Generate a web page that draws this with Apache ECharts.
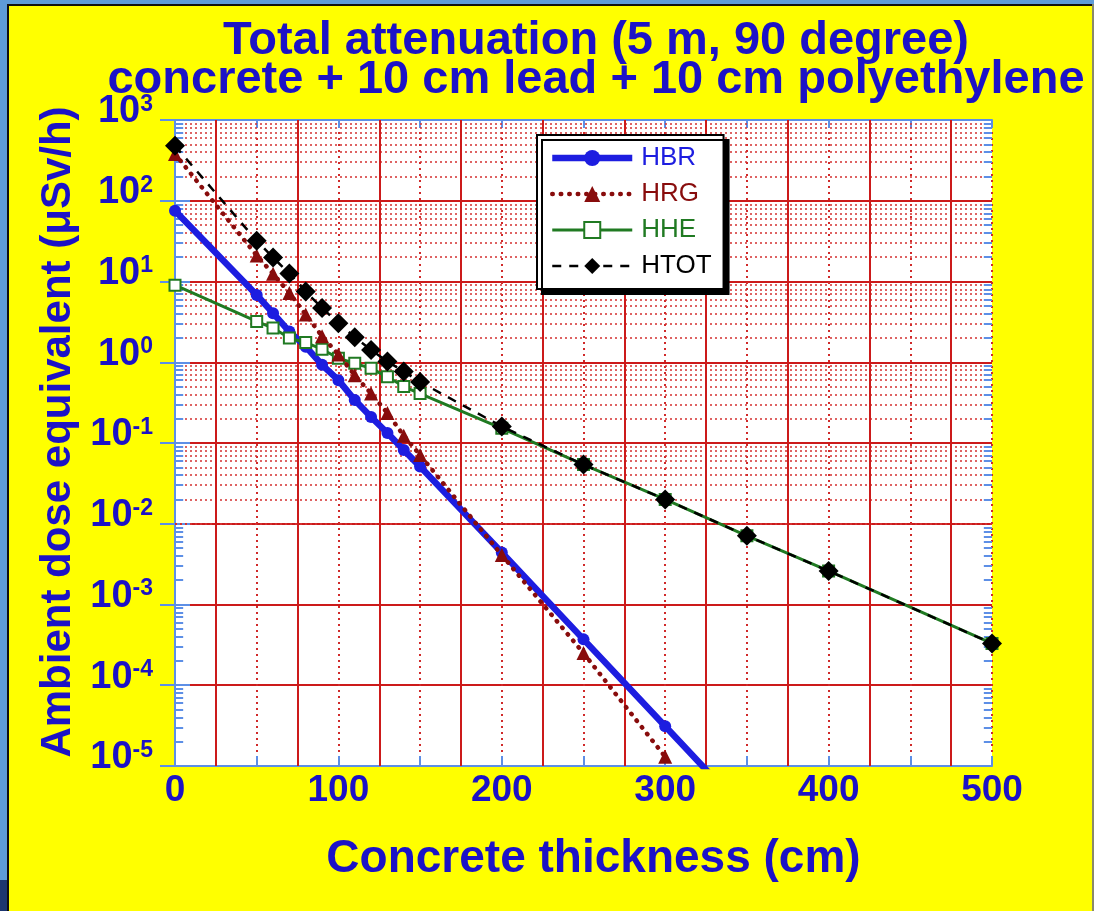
<!DOCTYPE html>
<html>
<head>
<meta charset="utf-8">
<script src="https://cdn.jsdelivr.net/npm/echarts@6/dist/echarts.min.js"></script>
<style>
html,body{margin:0;padding:0;background:#ffff00;}
#chart{width:1094px;height:911px;}
</style>
</head>
<body>
<div id="chart"></div>
<script>
// ---- data ----
const xHBR = [0,50,60,70,80,90,100,110,120,130,140,150,200,250,300,350];
const yHBR = [75,6.8,4.05,2.4,1.56,0.93,0.60,0.34,0.21,0.133,0.082,0.051,0.0044,3.7e-4,3.1e-5,2.6e-6];
const xHRG = [0,50,60,70,80,90,100,110,120,130,140,150,200,250,300];
const yHRG = [380,21,12.5,7.2,3.9,2.1,1.25,0.69,0.41,0.235,0.123,0.071,0.0041,2.5e-4,1.3e-5];
const xHHE = [0,50,60,70,80,90,100,110,120,130,140,150,200,250,300,350,400,500];
const yHHE = [9,3.2,2.65,2.0,1.75,1.45,1.12,0.97,0.84,0.66,0.50,0.41,0.152,0.054,0.020,0.0071,0.0026,3.3e-4];
const xHTOT = [0,50,60,70,80,90,100,110,120,130,140,150,200,250,300,350,400,500];
const yHTOT = [480,32,19.8,12.6,7.5,4.7,3.05,2.04,1.42,1.02,0.77,0.57,0.16,0.054,0.020,0.0071,0.0026,3.3e-4];
const seriesNames = ['HBR','HRG','HHE','HTOT'];
const titleLines = ['Total attenuation (5 m, 90 degree)','concrete + 10 cm lead + 10 cm polyethylene'];
const xName = 'Concrete thickness (cm)';
const yName = 'Ambient dose equivalent (\u03bcSv/h)';
const decades = [-5,-4,-3,-2,-1,0,1,2];          // decades with minor grid
const solidXLines = [25,75,125,175,225,275,325,375,425,475];

// ---- helpers ----
const BLUE_TXT = '#1c12c6';
const FONT = 'Liberation Sans';
const pairs = (xs, ys) => xs.map((x, i) => [x, ys[i]]);
const minorVals = [];
decades.forEach(d => { for (let m = 2; m <= 9; m++) minorVals.push(m * Math.pow(10, d)); });

const chart = echarts.init(document.getElementById('chart'), null, {renderer: 'canvas'});
const option = {
  backgroundColor: '#ffff00',
  animation: false,
  title: {
    text: titleLines.join('\n'),
    left: 591, top: 17, textAlign: 'center',
    textStyle: {color: BLUE_TXT, fontFamily: FONT, fontWeight: 'bold', fontSize: 47, lineHeight: 39}
  },
  graphic: [
    {type: 'rect', shape: {x: 0, y: 0, width: 8, height: 911}, style: {fill: '#5e9bd8'}, z: 100},
    {type: 'rect', shape: {x: 0, y: 0, width: 1094, height: 4}, style: {fill: '#5e9bd8'}, z: 100},
    {type: 'rect', shape: {x: 7, y: 4, width: 2, height: 907}, style: {fill: '#111'}, z: 101},
    {type: 'rect', shape: {x: 7, y: 4, width: 1087, height: 2}, style: {fill: '#111'}, z: 101},
    {type: 'rect', shape: {x: 1092, y: 4, width: 2, height: 907}, style: {fill: '#8a8a6a'}, z: 101},
    {type: 'rect', shape: {x: 0, y: 880, width: 7, height: 31}, style: {fill: '#1d3670'}, z: 102}
  ],
  grid: {left: 175, top: 120, right: 102, bottom: 145, show: true, backgroundColor: '#ffffff', borderWidth: 0},
  legend: {
    orient: 'vertical',
    left: 537, top: 135,
    padding: [10, 12, 10, 12],
    itemGap: 10,
    itemWidth: 80, itemHeight: 20,
    backgroundColor: '#ffffff',
    borderColor: '#000000', borderWidth: 2, borderRadius: 0,
    shadowColor: '#000000', shadowOffsetX: 5, shadowOffsetY: 5, shadowBlur: 0,
    textStyle: {fontFamily: FONT, fontSize: 26, padding: [0, 0, 0, 4]}
  },
  xAxis: [
    {
      type: 'value', min: 0, max: 500, interval: 50, position: 'bottom',
      name: xName, nameLocation: 'middle', nameGap: 70,
      nameTextStyle: {color: BLUE_TXT, fontFamily: FONT, fontWeight: 'bold', fontSize: 46, padding: [0, 0, 0, 20]},
      axisLine: {show: true, lineStyle: {color: '#5d8fe6', width: 2}},
      axisTick: {show: true, inside: true, length: 10, lineStyle: {color: '#5d8fe6', width: 2}},
      axisLabel: {
        margin: 6, color: BLUE_TXT, fontFamily: FONT, fontWeight: 'bold', fontSize: 37,
        formatter: v => (v % 100 === 0 ? String(v) : '')
      },
      splitLine: {show: true, lineStyle: {color: '#d02a2a', width: 2, type: [2, 4]}}
    },
    {
      type: 'value', min: 0, max: 500, interval: 50, position: 'top',
      axisLine: {show: true, lineStyle: {color: '#5d8fe6', width: 2}},
      axisTick: {show: true, inside: true, length: 8, lineStyle: {color: '#5d8fe6', width: 2}},
      axisLabel: {show: false}, splitLine: {show: false}
    }
  ],
  yAxis: [
    {
      type: 'log', logBase: 10, min: 1e-5, max: 1e3, position: 'left',
      name: yName, nameLocation: 'middle', nameGap: 89,
      nameTextStyle: {color: BLUE_TXT, fontFamily: FONT, fontWeight: 'bold', fontSize: 42, padding: [0, 0, 0, 22]},
      axisLine: {show: true, lineStyle: {color: '#5d8fe6', width: 2}},
      axisTick: {show: true, inside: true, length: 15, lineStyle: {color: '#5d8fe6', width: 2}},
      axisLabel: {
        margin: 22, padding: [0, 0, 16, 0],
        formatter: v => '{b|10}{s|' + Math.round(Math.log10(v)) + '}',
        rich: {
          b: {color: BLUE_TXT, fontFamily: FONT, fontWeight: 'bold', fontSize: 38},
          s: {color: BLUE_TXT, fontFamily: FONT, fontWeight: 'bold', fontSize: 23, verticalAlign: 'top'}
        }
      },
      splitLine: {show: true, lineStyle: {color: '#cc1a1a', width: 2}}
    },
    {
      type: 'log', logBase: 10, min: 1e-5, max: 1e3, position: 'right',
      axisLine: {show: true, lineStyle: {color: '#5d8fe6', width: 2}},
      axisTick: {show: true, inside: true, length: 15, lineStyle: {color: '#5d8fe6', width: 2}},
      axisLabel: {show: false}, splitLine: {show: false}
    }
  ],
  series: [
    // grid decorations
    {
      name: '_minorGrid', type: 'line', data: [], z: 1, silent: true,
      markLine: {
        silent: true, symbol: 'none', label: {show: false}, z: 1, animation: false,
        lineStyle: {color: '#d43030', width: 1.5, type: [2, 3]},
        emphasis: {disabled: true},
        data: minorVals.map(v => ({yAxis: v}))
      }
    },
    {
      name: '_solidX', type: 'line', data: [], z: 1, silent: true,
      markLine: {
        silent: true, symbol: 'none', label: {show: false}, z: 1, animation: false,
        lineStyle: {color: '#cc1a1a', width: 2, type: 'solid'},
        emphasis: {disabled: true},
        data: solidXLines.map(v => ({xAxis: v}))
      }
    },
    {
      name: '_minorTicks', type: 'line', data: [], z: 1, silent: true,
      markLine: {
        silent: true, symbol: 'none', label: {show: false}, z: 2, animation: false,
        lineStyle: {color: '#5d8fe6', width: 2, type: 'solid'},
        emphasis: {disabled: true},
        data: minorVals.map(v => [{coord: [0, v]}, {coord: [5, v]}])
          .concat(minorVals.map(v => [{coord: [495, v]}, {coord: [500, v]}]))
      }
    },
    {
      name: 'HBR', type: 'line', data: pairs(xHBR, yHBR), clip: true, z: 3,
      color: '#1d1de0', symbol: 'circle', symbolSize: 12,
      lineStyle: {color: '#1d1de0', width: 6.5},
      itemStyle: {color: '#1d1de0'},
      emphasis: {disabled: true}
    },
    {
      name: 'HHE', type: 'line', data: pairs(xHHE, yHHE), clip: true, z: 4,
      color: '#207a22', symbol: 'emptyRect', symbolSize: 11,
      lineStyle: {color: '#207a22', width: 3},
      itemStyle: {color: '#207a22', borderColor: '#207a22', borderWidth: 2},
      emphasis: {disabled: true}
    },
    {
      name: 'HRG', type: 'line', data: pairs(xHRG, yHRG), clip: true, z: 5,
      color: '#880c0c', symbol: 'triangle', symbolSize: 14,
      lineStyle: {color: '#880c0c', width: 4.5, type: [0.5, 8], cap: 'round'},
      itemStyle: {color: '#880c0c'},
      emphasis: {disabled: true}
    },
    {
      name: 'HTOT', type: 'line', data: pairs(xHTOT, yHTOT), clip: true, z: 6,
      color: '#000000', symbol: 'diamond', symbolSize: 20,
      lineStyle: {color: '#000000', width: 2.5, type: [9, 8]},
      itemStyle: {color: '#000000'},
      emphasis: {disabled: true}
    }
  ]
};
// legend entries follow the series styles
option.legend.data = seriesNames.map(n => {
  const s = option.series.find(x => x.name === n);
  return {
    name: n,
    textStyle: {color: s.color},
    lineStyle: {color: s.lineStyle.color, width: s.lineStyle.width, type: s.lineStyle.type, cap: s.lineStyle.cap || 'butt'}
  };
});
chart.setOption(option);
</script>
</body>
</html>
